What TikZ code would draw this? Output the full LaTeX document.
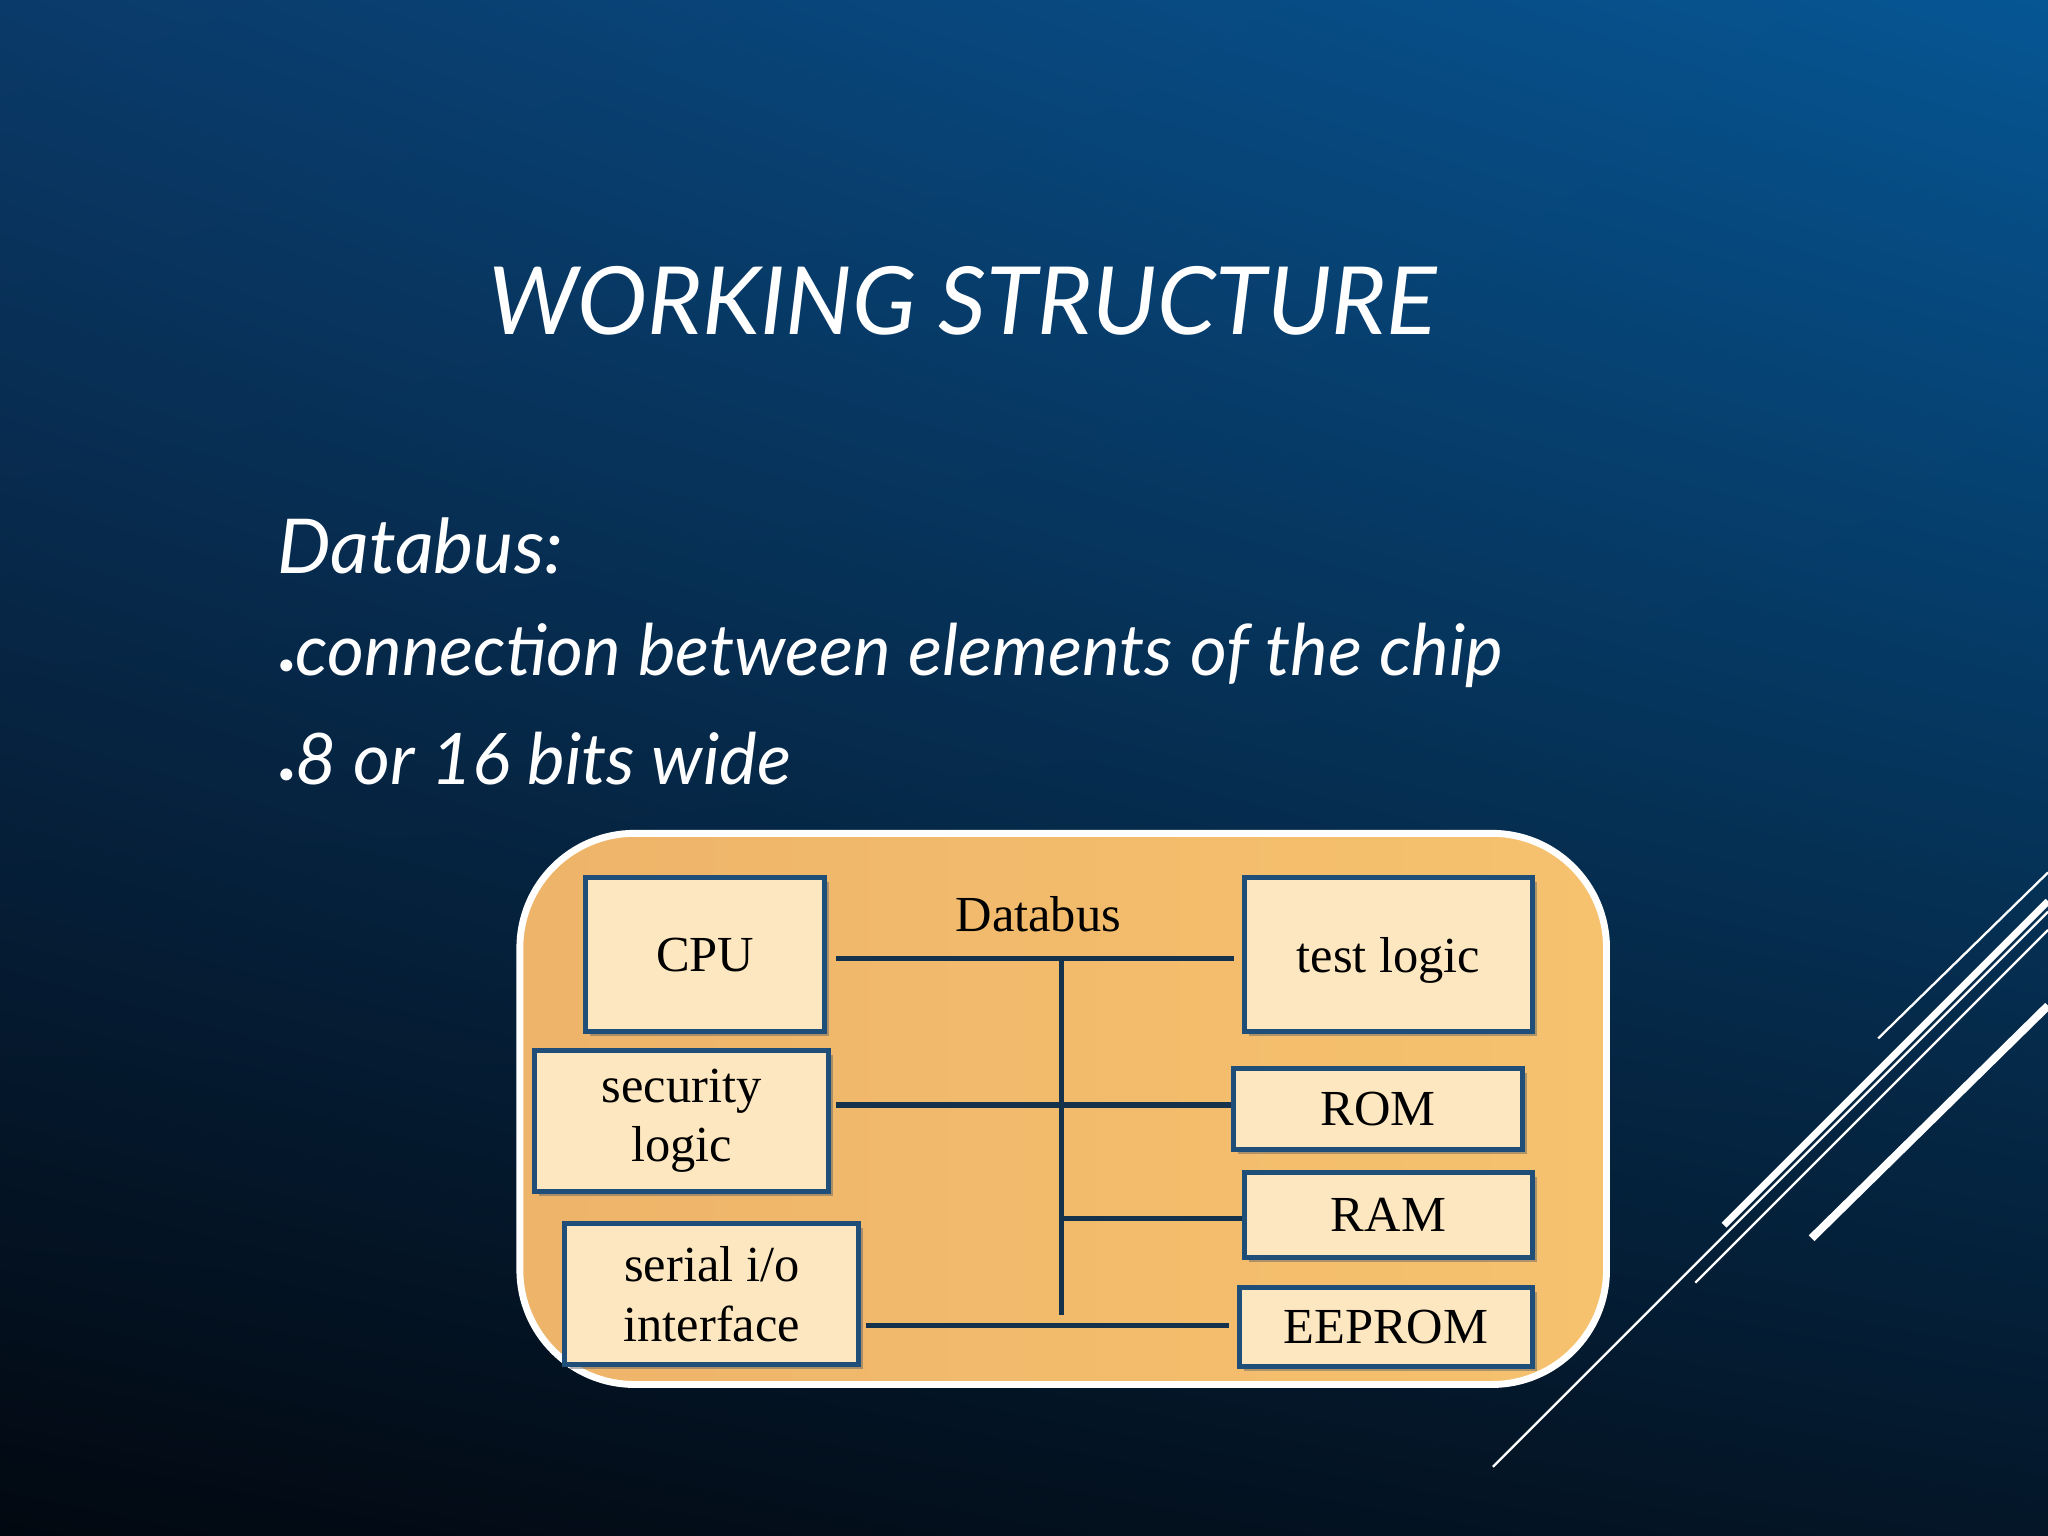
\documentclass[tikz,border=0pt]{standalone}
\usepackage{fontspec}
\setmainfont{Liberation Serif}
\newfontfamily\gothic{Lato}
\usetikzlibrary{positioning,shadows,shadings}
\definecolor{boxfill}{RGB}{253,231,192}
\definecolor{boxline}{RGB}{31,78,121}
\definecolor{busline}{RGB}{20,50,75}
\definecolor{bgul}{RGB}{10,58,105}
\definecolor{bgur}{RGB}{6,86,148}
\definecolor{bgll}{RGB}{2,8,16}
\definecolor{bglr}{RGB}{4,22,40}
\definecolor{panell}{RGB}{238,180,106}
\definecolor{panelr}{RGB}{246,194,110}
\newcommand\dotb{{\fontsize{14}{14}\selectfont\textbullet}}
\tikzset{
  unit/.style={draw=boxline,line width=2.2pt,fill=boxfill,align=center,
    font=\fontsize{22}{26}\selectfont,
    drop shadow={shadow xshift=2pt,shadow yshift=-2pt,fill=black!60}},
  bus/.style={busline,line width=2.2pt},
  deco/.style={white,line width=#1},
  slide/.style={white,anchor=west,font=\gothic\itshape\fontsize{31}{36}\selectfont}
}
\begin{document}
\begin{tikzpicture}[x=0.02cm,y=-0.02cm]
\useasboundingbox (0,0) rectangle (1568,1176);
\shade[upper left=bgul,upper right=bgur,lower left=bgll,lower right=bglr]
  (0,0) rectangle (1568,1176);

\draw[deco=1pt] (1438,795) -- (1568,668);
\draw[deco=3pt] (1320,938) -- (1568,690);
\draw[deco=1pt] (1298,982) -- (1568,712);
\draw[deco=3.5pt] (1387,948) -- (1568,770);
\draw[deco=1pt] (1143,1123) -- (1568,698);

\node[white,font=\gothic\itshape\fontsize{41}{48}\selectfont] (title) at (737,230) {WORKING STRUCTURE};
\node[slide,font=\gothic\itshape\fontsize{33}{38}\selectfont] (head) at (206,418) {Databus:};
\node[slide] (pt1) at (206,502) {\dotb connection between elements of the chip};
\node[slide] (pt2) at (206,581) {\dotb 8 or 16 bits wide};

\shade[left color=panell,right color=panelr,rounded corners=50] (398,638) rectangle (1230,1060);
\draw[white,line width=3pt,rounded corners=50] (398,638) rectangle (1230,1060);

\node[unit,minimum width=3.66cm,minimum height=2.36cm] (cpu) at (540,731) {CPU};
\node[unit,minimum width=4.4cm,minimum height=2.36cm,text depth=-0.3cm] (test) at (1063,731) {test logic};
\node[unit,minimum width=4.5cm,minimum height=2.16cm] (sec) at (522,858) {security\\logic};
\node[unit,minimum width=4.42cm,minimum height=1.24cm] (rom) at (1055,849) {ROM};
\node[unit,minimum width=4.4cm,minimum height=1.3cm] (ram) at (1063,930) {RAM};
\node[unit,minimum width=4.5cm,minimum height=2.16cm] (serial) at (545,991) {serial i/o\\interface};
\node[unit,minimum width=4.48cm,minimum height=1.22cm] (eeprom) at (1061,1016) {EEPROM};
\node[font=\fontsize{22}{26}\selectfont] (dblabel) at (795,700) {Databus};

\coordinate (b1) at (813,734);
\coordinate (b2) at (813,846);
\coordinate (b3) at (813,933);
\coordinate (b4) at (813,1007);
\draw[bus] (640,734) -- (b1) -- (945,734);
\draw[bus] (b1) -- (b4);
\draw[bus] (640,846) -- (b2) -- (b2 -| rom.west);
\draw[bus] (b3) -- (b3 -| ram.west);
\draw[bus] (663,1015) -- (941,1015);
\end{tikzpicture}
\end{document}
